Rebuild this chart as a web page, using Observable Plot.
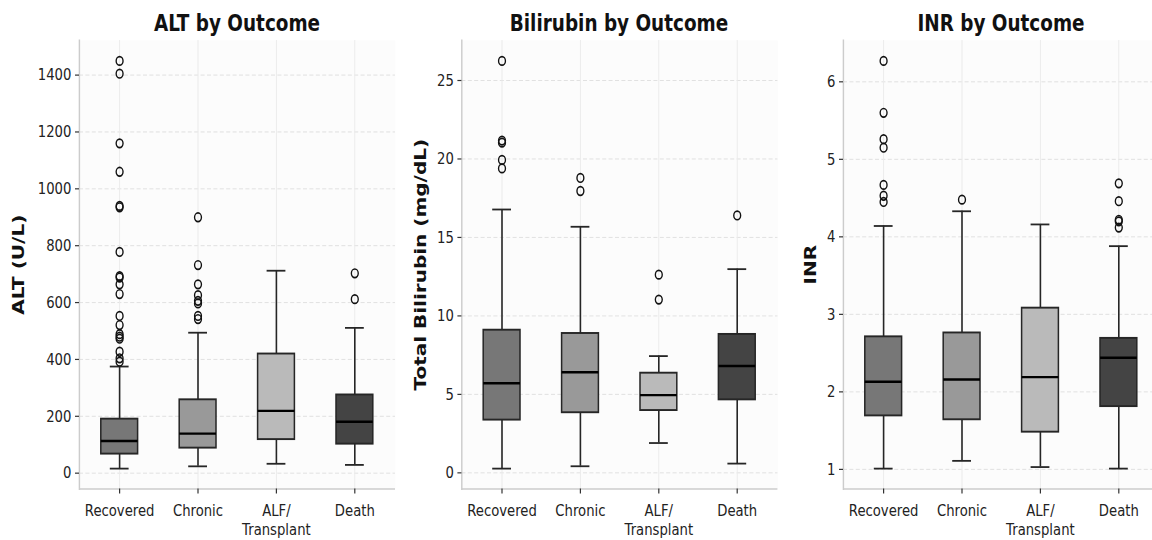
<!DOCTYPE html>
<html>
<head>
<meta charset="utf-8">
<script src="https://cdn.jsdelivr.net/npm/d3@7"></script>
<script src="https://cdn.jsdelivr.net/npm/@observablehq/plot@0.6"></script>
<style>
  html, body { margin: 0; padding: 0; background: #ffffff; }
  #wrap { position: relative; width: 1152px; height: 540px; overflow: hidden; background: #ffffff; }
  #fig { position: absolute; top: 0; left: 0; width: 1440px; height: 540px;
         transform: scaleX(0.8); transform-origin: 0 0; }
  .panel { position: absolute; top: 0; width: 500px; height: 540px; }
  .title { position: absolute; top: 8px; left: 98.75px; width: 395px; height: 30px; line-height: 30px;
           text-align: center; font-family: "DejaVu Sans", sans-serif;
           font-weight: bold; font-size: 23px; color: #111; white-space: nowrap; }
  .chart { position: absolute; top: 30px; left: 0; }
</style>
</head>
<body>
<div id="wrap"><div id="fig"></div></div>
<script>
// ---- categories ----
const outcomes = ["Recovered", "Chronic", "ALF/Transplant", "Death"];
const outcomeLabels = ["Recovered", "Chronic", "ALF/\nTransplant", "Death"];
const boxColors = ["#777777", "#999999", "#bababa", "#444444"];

// ---- ALT (U/L) ----
const altQ1 = [67, 88, 118, 102];
const altMedian = [113, 139, 219, 181];
const altQ3 = [190, 258, 419, 275];
const altLow = [16, 24, 33, 29];
const altHigh = [375, 494, 712, 511];
const altOutRecovered = [1450, 1405, 1160, 1060, 940, 935, 778, 693, 688, 664, 630, 553, 521, 489, 480, 473, 427, 404, 392];
const altOutChronic = [900, 732, 664, 626, 606, 597, 553, 542];
const altOutALF = [];
const altOutDeath = [703, 612];
const altTicks = [0, 200, 400, 600, 800, 1000, 1200, 1400];

// ---- Total bilirubin (mg/dL) ----
const biliQ1 = [3.36, 3.83, 3.97, 4.65];
const biliMedian = [5.71, 6.41, 4.95, 6.81];
const biliQ3 = [9.09, 8.88, 6.35, 8.82];
const biliLow = [0.27, 0.42, 1.90, 0.59];
const biliHigh = [16.78, 15.68, 7.44, 12.98];
const biliOutRecovered = [26.25, 21.17, 21.04, 19.94, 19.4];
const biliOutChronic = [18.79, 17.96];
const biliOutALF = [12.63, 11.04];
const biliOutDeath = [16.4];
const biliTicks = [0, 5, 10, 15, 20, 25];

// ---- INR ----
const inrQ1 = [1.69, 1.64, 1.48, 1.81];
const inrMedian = [2.13, 2.16, 2.19, 2.44];
const inrQ3 = [2.71, 2.76, 3.08, 2.69];
const inrLow = [1.01, 1.11, 1.03, 1.01];
const inrHigh = [4.14, 4.33, 4.16, 3.88];
const inrOutRecovered = [6.27, 5.60, 5.26, 5.15, 4.67, 4.53, 4.45];
const inrOutChronic = [4.48];
const inrOutALF = [];
const inrOutDeath = [4.69, 4.46, 4.22, 4.20, 4.12];
const inrTicks = [1, 2, 3, 4, 5, 6];

// ---- panel titles / labels ----
const titles = ["ALT by Outcome", "Bilirubin by Outcome", "INR by Outcome"];
const yLabels = ["ALT (U/L)", "Total Bilirubin (mg/dL)", "INR"];

const fig = document.getElementById("fig");

function makePanel(index, left, labelOffset, ticks, q1, med, q3, lo, hi, outs) {
  const boxes = outcomes.map((o, i) => ({o, q1: q1[i], med: med[i], q3: q3[i], lo: lo[i], hi: hi[i]}));
  const pts = outcomes.flatMap((o, i) => outs[i].map(v => ({o, v})));
  const all = [...lo, ...hi, ...outs.flat()];
  const mn = d3.min(all), mx = d3.max(all), pad = (mx - mn) * 0.05;
  const edge = "#262626";

  const svg = Plot.plot({
    width: 500, height: 510,
    marginLeft: 98.75, marginRight: 6.25, marginTop: 10, marginBottom: 51.5,
    style: {fontFamily: "'DejaVu Sans', sans-serif", fontSize: "16.5px", color: "#222", background: "transparent", overflow: "visible"},
    x: {domain: outcomes, paddingInner: 0.53, paddingOuter: 0.265},
    y: {domain: [mn - pad, mx + pad]},
    color: {domain: outcomes, range: boxColors},
    marks: [
      Plot.frame({fill: "#fcfcfc", stroke: null}),
      Plot.gridY(ticks, {stroke: "#dedede", strokeOpacity: 1, strokeDasharray: "5,3"}),
      Plot.gridX({stroke: "#ebebeb", strokeOpacity: 1, strokeWidth: 1.2}),
      Plot.ruleY([mn - pad], {stroke: "#cccccc", strokeWidth: 1.5}),
      Plot.frame({anchor: "left", stroke: "#cccccc", strokeWidth: 1.8}),
      Plot.ruleX(boxes, {x: "o", y1: "lo", y2: "hi", stroke: edge, strokeWidth: 2}),
      Plot.tickY(boxes, {x: "o", y: "lo", inset: 11.25, stroke: edge, strokeWidth: 1.8}),
      Plot.tickY(boxes, {x: "o", y: "hi", inset: 11.25, stroke: edge, strokeWidth: 1.8}),
      Plot.barY(boxes, {x: "o", y1: "q1", y2: "q3", fill: "o", stroke: edge, strokeWidth: 1.9}),
      Plot.tickY(boxes, {x: "o", y: "med", stroke: "#000", strokeWidth: 2.4}),
      Plot.dot(pts, {x: "o", y: "v", r: 4.3, stroke: "#111", strokeWidth: 1.7, fill: "none"}),
      Plot.axisX({label: null, tickSize: 5, tickPadding: 9, stroke: "#333", fill: "#222", strokeWidth: 1.5,
                  tickFormat: d => outcomeLabels[outcomes.indexOf(d)], lineHeight: 1.12}),
      Plot.axisY(ticks, {label: null, tickSize: 5, tickPadding: 5, stroke: "#333", fill: "#222", strokeWidth: 1.2,
                  tickFormat: d => String(d)}),
      Plot.text([yLabels[index]], {frameAnchor: "left", text: d => d, rotate: -90, dx: -labelOffset,
                  textAnchor: "middle", lineAnchor: "middle",
                  fontWeight: "bold", fontSize: 20, fontFamily: "'DejaVu Sans', sans-serif", fill: "#111"})
    ]
  });

  const panel = document.createElement("div");
  panel.className = "panel";
  panel.style.left = left + "px";
  const t = document.createElement("div");
  t.className = "title";
  t.textContent = titles[index];
  panel.appendChild(t);
  svg.classList.add("chart");
  panel.appendChild(svg);
  fig.appendChild(panel);
}

makePanel(0, 0, 76.25, altTicks, altQ1, altMedian, altQ3, altLow, altHigh,
  [altOutRecovered, altOutChronic, altOutALF, altOutDeath]);
makePanel(1, 477.5, 51.25, biliTicks, biliQ1, biliMedian, biliQ3, biliLow, biliHigh,
  [biliOutRecovered, biliOutChronic, biliOutALF, biliOutDeath]);
makePanel(2, 955, 41.25, inrTicks, inrQ1, inrMedian, inrQ3, inrLow, inrHigh,
  [inrOutRecovered, inrOutChronic, inrOutALF, inrOutDeath]);
</script>
</body>
</html>
